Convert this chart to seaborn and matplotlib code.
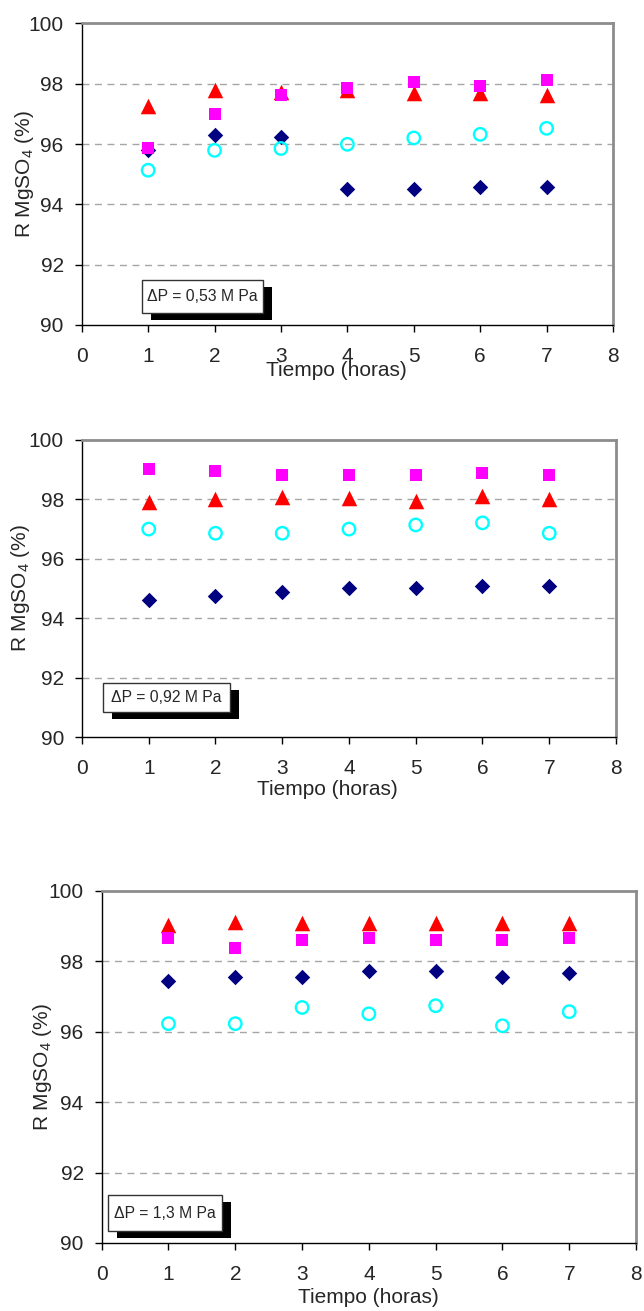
import numpy as np
import pandas as pd
import matplotlib
matplotlib.use("Agg")
import matplotlib.pyplot as plt
from matplotlib.patches import Rectangle
import seaborn as sns

# ---------------- data ----------------
horas = [1, 2, 3, 4, 5, 6, 7]

p053_diamond = [95.80, 96.30, 96.24, 94.50, 94.50, 94.56, 94.56]
p053_square = [95.86, 96.98, 97.62, 97.85, 98.07, 97.92, 98.12]
p053_triangle = [97.27, 97.80, 97.72, 97.78, 97.70, 97.70, 97.64]
p053_circle = [95.13, 95.79, 95.85, 95.99, 96.20, 96.32, 96.52]

p092_diamond = [94.61, 94.75, 94.87, 95.01, 95.01, 95.10, 95.10]
p092_square = [99.01, 98.96, 98.82, 98.82, 98.82, 98.88, 98.82]
p092_triangle = [97.90, 98.02, 98.09, 98.03, 97.96, 98.10, 98.02]
p092_circle = [97.00, 96.86, 96.86, 97.00, 97.14, 97.21, 96.86]

p13_diamond = [97.45, 97.55, 97.55, 97.74, 97.74, 97.55, 97.66]
p13_square = [98.66, 98.37, 98.61, 98.66, 98.61, 98.61, 98.66]
p13_triangle = [99.03, 99.13, 99.08, 99.08, 99.08, 99.08, 99.08]
p13_circle = [96.23, 96.23, 96.69, 96.51, 96.74, 96.17, 96.57]

box_labels = ["\u0394P = 0,53 M Pa", "\u0394P = 0,92 M Pa", "\u0394P = 1,3 M Pa"]
x_ticks = [0, 1, 2, 3, 4, 5, 6, 7, 8]
y_ticks = [90, 92, 94, 96, 98, 100]
x_label = "Tiempo (horas)"
y_label = "R MgSO$_4$ (%)"

panels = [
    dict(diamond=p053_diamond, square=p053_square, triangle=p053_triangle, circle=p053_circle),
    dict(diamond=p092_diamond, square=p092_square, triangle=p092_triangle, circle=p092_circle),
    dict(diamond=p13_diamond, square=p13_square, triangle=p13_triangle, circle=p13_circle),
]

# ---------------- style ----------------
sns.set_style("white")
plt.rcParams['font.family'] = ['Liberation Sans', 'DejaVu Sans']
plt.rcParams['mathtext.fontset'] = 'custom'
plt.rcParams['mathtext.rm'] = 'Liberation Sans'
plt.rcParams['mathtext.default'] = 'regular'

fig = plt.figure(figsize=(6.44, 13.11), dpi=100)

# axes rectangles in figure fraction (left, bottom, width, height)
rects = [
    (0.1269, 0.7521, 0.8250, 0.2301),
    (0.1273, 0.4378, 0.8292, 0.2266),
    (0.1579, 0.0519, 0.8297, 0.2685),
]
ylabel_x = [-0.107, -0.115, -0.111]
xlabel_pos = [(0.48, -0.152), (0.46, -0.175), (0.50, -0.155)]
# text box (x0, y0, x1, y1) in axes fraction
boxes = [
    (0.113, 0.041, 0.341, 0.149),
    (0.039, 0.085, 0.277, 0.182),
    (0.011, 0.033, 0.226, 0.137),
]

for i, (rect, pdata) in enumerate(zip(rects, panels)):
    ax = fig.add_axes(rect)
    ax.set_facecolor('white')
    # gridlines
    for yv in y_ticks[1:-1]:
        ax.axhline(yv, color='#a6a6a6', lw=1.0, ls=(0, (5, 4)), zorder=0)

    df = pd.DataFrame({"horas": horas, **pdata})
    sns.scatterplot(data=df, x="horas", y="diamond", marker="D", s=62,
                    color="#000080", edgecolor="#000080", linewidth=0, ax=ax, zorder=3)
    sns.scatterplot(data=df, x="horas", y="circle", marker="o", s=80,
                    facecolors="none", edgecolor="#00FFFF", linewidth=1.7, ax=ax, zorder=3)
    sns.scatterplot(data=df, x="horas", y="triangle", marker="^", s=125,
                    color="#FF0000", edgecolor="#FF0000", linewidth=0, ax=ax, zorder=4)
    sns.scatterplot(data=df, x="horas", y="square", marker="s", s=85,
                    color="#FF00FF", edgecolor="#FF00FF", linewidth=0, ax=ax, zorder=5)

    ax.set_xlim(0, 8)
    ax.set_ylim(90, 100)
    ax.set_xticks(x_ticks)
    ax.set_yticks(y_ticks)
    ax.set_xticklabels([str(t) for t in x_ticks])
    ax.set_yticklabels([str(t) for t in y_ticks])
    ax.tick_params(axis='x', direction='out', length=5, width=1, color='black',
                   labelsize=15, pad=11, bottom=True, top=False)
    ax.tick_params(axis='y', direction='out', length=5, width=1, color='black',
                   labelsize=15, pad=8, left=True, right=False)

    for side in ['left', 'bottom']:
        ax.spines[side].set_color('black')
        ax.spines[side].set_linewidth(1.0)
    for side in ['top', 'right']:
        ax.spines[side].set_color('#8c8c8c')
        ax.spines[side].set_linewidth(2.0)
        ax.spines[side].set_visible(True)

    ax.set_xlabel(x_label, fontsize=15)
    ax.set_ylabel(y_label, fontsize=15)
    ax.xaxis.set_label_coords(*xlabel_pos[i])
    ax.xaxis.label.set_va('center')
    ax.yaxis.set_label_coords(ylabel_x[i], 0.5)
    ax.yaxis.label.set_va('center')

    # text box with shadow
    x0, y0, x1, y1 = boxes[i]
    dx = 9 / (rect[2] * 644)
    dy = 7 / (rect[3] * 1311)
    ax.add_patch(Rectangle((x0 + dx, y0 - dy), x1 - x0, y1 - y0, transform=ax.transAxes,
                           facecolor='black', edgecolor='black', lw=0, zorder=6, clip_on=False))
    ax.add_patch(Rectangle((x0, y0), x1 - x0, y1 - y0, transform=ax.transAxes,
                           facecolor='white', edgecolor='#333333', lw=1.0, zorder=7, clip_on=False))
    ax.text((x0 + x1) / 2, (y0 + y1) / 2, box_labels[i], transform=ax.transAxes,
            ha='center', va='center', fontsize=11.3, zorder=8)
    leg = ax.get_legend()
    if leg is not None:
        leg.remove()

fig.savefig("out.png", dpi=100)
